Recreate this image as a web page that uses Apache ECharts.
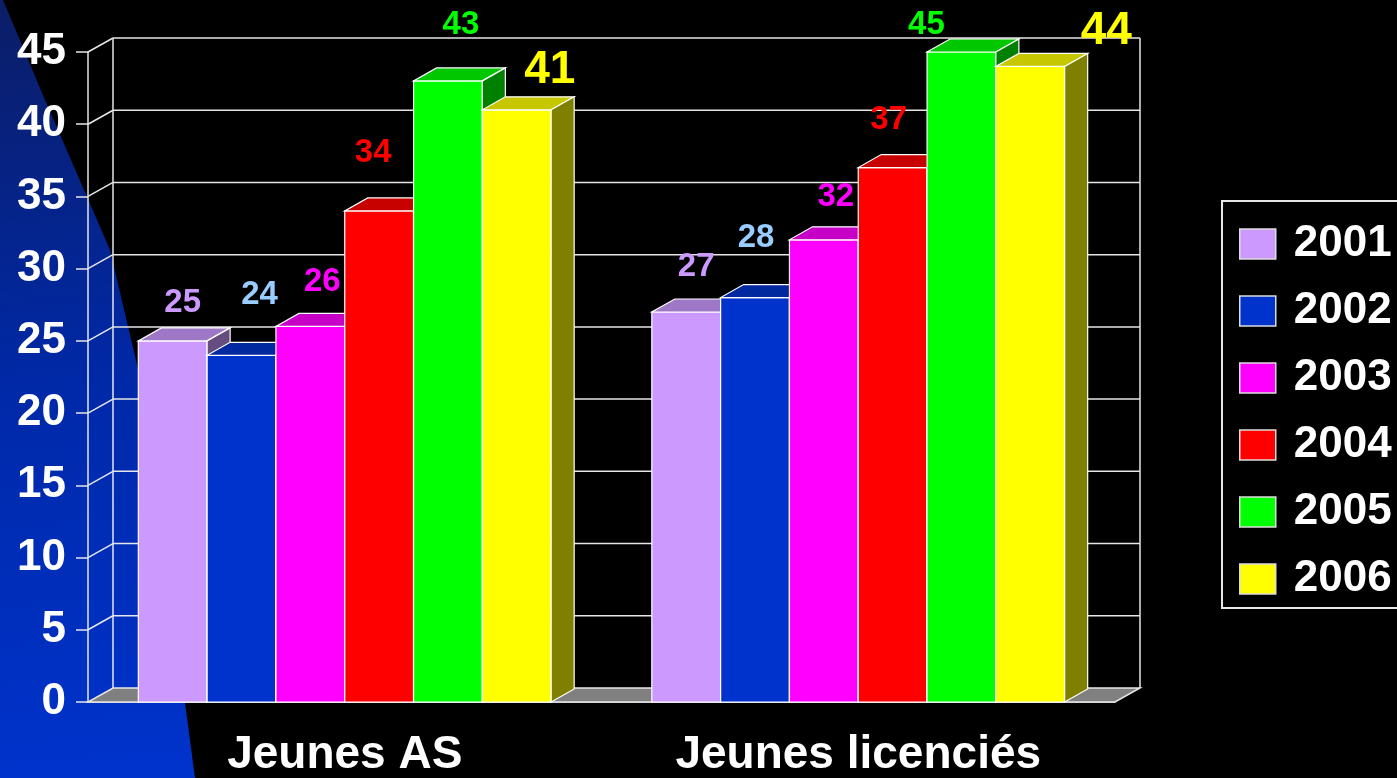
<!DOCTYPE html>
<html>
<head>
<meta charset="utf-8">
<script src="https://cdn.jsdelivr.net/npm/echarts@6/dist/echarts.min.js"></script>
<style>
  html, body { margin: 0; padding: 0; background: #000; }
  #main { width: 1397px; height: 778px; }
</style>
</head>
<body>
<div id="main"></div>
<script>
// data
var categories = ['Jeunes AS', 'Jeunes licenciés'];
var years = ['2001', '2002', '2003', '2004', '2005', '2006'];
var yTicks = [0, 5, 10, 15, 20, 25, 30, 35, 40, 45];
var v2001 = [25, 27];
var v2002 = [24, 28];
var v2003 = [26, 32];
var v2004 = [34, 37];
var v2005 = [43, 45];
var v2006 = [41, 44];
var seriesValues = [v2001, v2002, v2003, v2004, v2005, v2006];

// styles
var barColors = ['#cc99ff', '#0033cc', '#ff00ff', '#ff0000', '#00ff00', '#ffff00'];
var labelColors = ['#cc99ff', '#99ccff', '#ff00ff', '#ff0000', '#00ff00', '#ffff00'];
var labelSizes = [33, 33, 33, 33, 33, 46];
// hand placed label nudges (px from bar front centre / top), per year, per category
var labelNudge = [
  [[10, -38], [10, -45]],
  [[18, -60], [1, -60]],
  [[12, -45], [12, -43]],
  [[-6, -58], [-4, -48]],
  [[13, -56], [-35, -27]],
  [[33, -39], [76, -35]]
];
var DX = 23, DY = 13;      // bar depth
var WX = 25, WY = 14;      // wall depth
var font = '"Liberation Sans", Arial, sans-serif';

function shade(hex, k) {
  var n = parseInt(hex.slice(1), 16);
  var r = Math.round(((n >> 16) & 255) * k);
  var g = Math.round(((n >> 8) & 255) * k);
  var b = Math.round((n & 255) * k);
  return 'rgb(' + r + ',' + g + ',' + b + ')';
}

var myChart = echarts.init(document.getElementById('main'));

function renderWall(params, api) {
  var cs = params.coordSys;
  var t = api.value(1);
  var y = api.coord([0, t])[1];
  var lineStyle = { stroke: '#e6e6e6', lineWidth: 1.5 };
  var kids = [];
  if (t === 0) {
    kids.push({
      type: 'polygon',
      shape: { points: [[cs.x, y], [cs.x + cs.width, y], [cs.x + cs.width + WX, y - WY], [cs.x + WX, y - WY]] },
      style: { fill: '#808080', stroke: '#e6e6e6', lineWidth: 1.5 }
    });
    kids.push({ type: 'line', shape: { x1: cs.x + WX, y1: cs.y - WY, x2: cs.x + WX, y2: y - WY }, style: lineStyle });
    kids.push({ type: 'line', shape: { x1: cs.x + cs.width + WX, y1: cs.y - WY, x2: cs.x + cs.width + WX, y2: y - WY }, style: lineStyle });
  } else {
    kids.push({ type: 'line', shape: { x1: cs.x + WX, y1: y - WY, x2: cs.x + cs.width + WX, y2: y - WY }, style: lineStyle });
    kids.push({ type: 'line', shape: { x1: cs.x, y1: y, x2: cs.x + WX, y2: y - WY }, style: lineStyle });
  }
  return { type: 'group', children: kids };
}

function makeBarRender(si) {
  return function (params, api) {
    var cat = api.value(0), val = api.value(1);
    var base = api.coord([cat, 0]);
    var top = api.coord([cat, val]);
    var band = api.size([1, 0])[0];
    var groupW = band * 0.804;
    var w = groupW / 6;
    var x0 = base[0] - groupW / 2 + si * w, x1 = x0 + w;
    var yb = base[1], yt = top[1];
    var c = barColors[si];
    var edge = { stroke: '#ffffff', lineWidth: 1.2 };
    var nudge = labelNudge[si][cat];
    return {
      type: 'group',
      children: [
        { type: 'rect', shape: { x: x0, y: yt, width: w, height: yb - yt },
          style: { fill: c, stroke: edge.stroke, lineWidth: edge.lineWidth } },
        { type: 'polygon', shape: { points: [[x0, yt], [x1, yt], [x1 + DX, yt - DY], [x0 + DX, yt - DY]] },
          style: { fill: shade(c, 0.78), stroke: edge.stroke, lineWidth: edge.lineWidth } },
        { type: 'polygon', shape: { points: [[x1, yt], [x1 + DX, yt - DY], [x1 + DX, yb - DY], [x1, yb]] },
          style: { fill: shade(c, 0.5), stroke: edge.stroke, lineWidth: edge.lineWidth } },
        { type: 'text', style: {
            text: String(val), x: x0 + w / 2 + nudge[0], y: yt + nudge[1],
            fill: labelColors[si], font: 'bold ' + labelSizes[si] + 'px ' + font,
            align: 'center', verticalAlign: 'middle' } }
      ]
    };
  };
}

var series = [{
  name: 'wall',
  type: 'custom',
  renderItem: renderWall,
  silent: true,
  data: yTicks.map(function (t) { return [0, t]; })
}];
years.forEach(function (y, i) {
  series.push({
    name: y,
    type: 'custom',
    renderItem: makeBarRender(i),
    itemStyle: { color: barColors[i] },
    data: seriesValues[i].map(function (v, ci) { return [ci, v]; })
  });
});

myChart.setOption({
  backgroundColor: '#000',
  animation: false,
  graphic: [{
    type: 'polygon',
    z: -10,
    shape: { points: [[0, 0], [3, 0], [45, 100], [110, 250], [150, 420], [185, 703], [195, 778], [0, 778]] },
    style: {
      fill: new echarts.graphic.LinearGradient(0, 0, 0.3, 1, [
        { offset: 0, color: '#0b1d66' },
        { offset: 0.5, color: '#0029a8' },
        { offset: 1, color: '#0033cc' }
      ])
    }
  }],
  legend: {
    data: years,
    orient: 'vertical',
    left: 1222,
    top: 201,
    padding: [21, 60, 7, 17],
    itemWidth: 36,
    itemHeight: 30,
    itemGap: 23,
    icon: 'rect',
    borderColor: '#e6e6e6',
    borderWidth: 2,
    itemStyle: { borderColor: '#dddddd', borderWidth: 1.5 },
    textStyle: { color: '#fff', fontSize: 44, fontWeight: 'bold', fontFamily: font, lineHeight: 44, padding: [0, 0, 0, 13] }
  },
  grid: { left: 88, top: 52, width: 1027, height: 651 },
  xAxis: {
    type: 'category',
    data: categories,
    axisLine: { lineStyle: { color: '#e6e6e6', width: 1.5 } },
    axisTick: { length: 10, lineStyle: { color: '#e6e6e6', width: 1.5 } },
    axisLabel: { color: '#fff', fontSize: 46, fontWeight: 'bold', fontFamily: font, margin: 30 }
  },
  yAxis: {
    type: 'value',
    min: 0,
    max: 45,
    interval: 5,
    axisLine: { show: true, lineStyle: { color: '#e6e6e6', width: 1.5 } },
    axisTick: { show: true, length: 12, lineStyle: { color: '#e6e6e6', width: 1.5 } },
    axisLabel: { color: '#fff', fontSize: 44, fontWeight: 'bold', fontFamily: font, margin: 22 },
    splitLine: { show: false }
  },
  series: series
});
</script>
</body>
</html>
